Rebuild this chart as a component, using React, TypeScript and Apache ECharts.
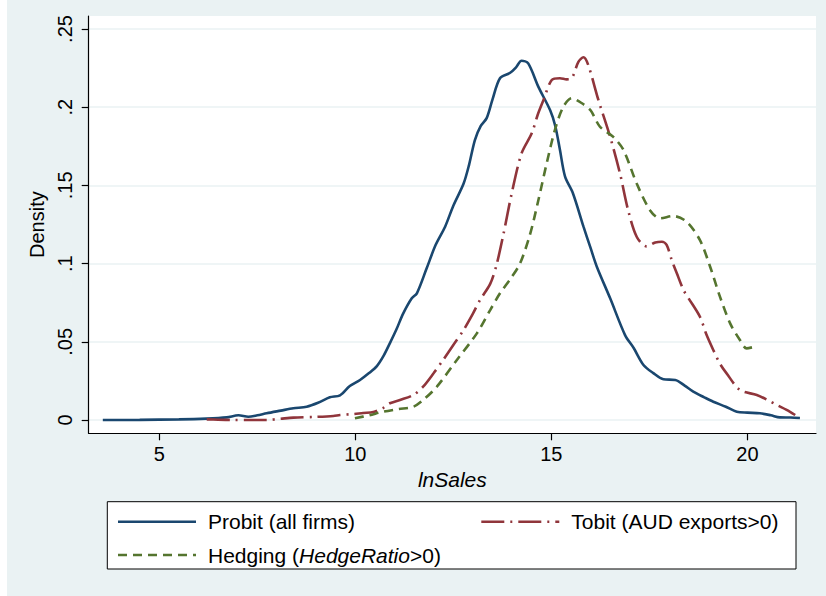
import React, { useEffect, useRef } from "react";
import * as echarts from "echarts";

const xTicks = [5, 10, 15, 20];
const yTicks = [0, 0.05, 0.1, 0.15, 0.2, 0.25];
const yTickLabels = ["0", ".05", ".1", ".15", ".2", ".25"];

const seriesNames = ["Probit (all firms)", "Tobit (AUD exports>0)", "Hedging (HedgeRatio>0)"];

const probit: number[][] = [
  [3.56, 0], [4.5, 0.0001], [5.5, 0.0004], [6.2, 0.0009], [6.72, 0.0017], [7.02, 0.003],
  [7.27, 0.0021], [7.5, 0.003], [7.74, 0.0043], [8.1, 0.006], [8.42, 0.0075], [8.76, 0.0085],
  [9.05, 0.011], [9.35, 0.0145], [9.61, 0.0158], [9.86, 0.0217], [10.12, 0.0256], [10.35, 0.03],
  [10.55, 0.0345], [10.72, 0.041], [10.88, 0.049], [11.05, 0.058], [11.22, 0.068], [11.44, 0.0778],
  [11.57, 0.081], [11.82, 0.097], [12.05, 0.112], [12.29, 0.1236], [12.5, 0.137], [12.76, 0.151],
  [12.9, 0.163], [13.05, 0.179], [13.2, 0.188], [13.35, 0.193], [13.5, 0.205], [13.69, 0.2185],
  [13.95, 0.222], [14.1, 0.2255], [14.24, 0.2297], [14.41, 0.228], [14.67, 0.213], [14.97, 0.198],
  [15.1, 0.188], [15.22, 0.1726], [15.35, 0.1556], [15.55, 0.145], [15.82, 0.1236], [16.0, 0.11],
  [16.16, 0.098], [16.5, 0.0778], [16.88, 0.0543], [17.1, 0.046], [17.35, 0.0352], [17.6, 0.03],
  [17.86, 0.026], [18.16, 0.0256], [18.4, 0.022], [18.62, 0.0181], [18.9, 0.0145], [19.13, 0.0117],
  [19.45, 0.0085], [19.73, 0.0053], [20.0, 0.0047], [20.32, 0.0043], [20.6, 0.003], [20.83, 0.0017],
  [21.1, 0.0016], [21.34, 0.0013],
];

const tobit: number[][] = [
  [6.21, 0.0004], [6.5, 0.0002], [6.88, 0.0], [7.3, 0.0], [7.74, 0.0], [8.1, 0.0008], [8.42, 0.0015],
  [9.0, 0.002], [9.44, 0.0026], [9.61, 0.0032], [9.95, 0.0038], [10.2, 0.0045], [10.46, 0.0051],
  [10.7, 0.0075], [10.88, 0.0107], [11.14, 0.0128], [11.48, 0.016], [11.73, 0.0213], [12.0, 0.03],
  [12.24, 0.0384], [12.5, 0.048], [12.76, 0.0575], [13.0, 0.068], [13.18, 0.0767], [13.44, 0.087],
  [13.6, 0.099], [13.78, 0.119], [13.99, 0.145], [14.24, 0.1705], [14.5, 0.1833], [14.65, 0.195],
  [14.8, 0.2046], [15.01, 0.2174], [15.22, 0.2185], [15.39, 0.2178], [15.52, 0.2185], [15.69, 0.229],
  [15.82, 0.2319], [15.94, 0.227], [16.2, 0.2046], [16.5, 0.181], [16.75, 0.1577], [16.96, 0.134],
  [17.18, 0.117], [17.43, 0.111], [17.65, 0.1135], [17.82, 0.114], [17.94, 0.112], [18.07, 0.1023],
  [18.2, 0.0938], [18.37, 0.0831], [18.5, 0.0778], [18.79, 0.066], [18.95, 0.055], [19.13, 0.0448],
  [19.3, 0.036], [19.47, 0.0298], [19.81, 0.0192], [20.24, 0.016], [20.5, 0.013], [20.75, 0.0096],
  [21.0, 0.0065], [21.22, 0.0032],
];

const hedging: number[][] = [
  [9.99, 0.0011], [10.35, 0.003], [10.71, 0.0053], [11.1, 0.007], [11.48, 0.0085], [11.73, 0.0128],
  [12.08, 0.0213], [12.59, 0.0384], [13.1, 0.0554], [13.44, 0.0703], [13.69, 0.081], [13.95, 0.09],
  [14.2, 0.1], [14.46, 0.119], [14.67, 0.1407], [14.88, 0.164], [15.09, 0.1854], [15.3, 0.2],
  [15.52, 0.2057], [15.78, 0.2025], [16.0, 0.198], [16.24, 0.1875], [16.58, 0.181], [16.84, 0.1726],
  [17.18, 0.151], [17.52, 0.134], [17.77, 0.129], [18.11, 0.1304], [18.45, 0.1268], [18.79, 0.115],
  [19.05, 0.098], [19.3, 0.0789], [19.56, 0.0618], [19.81, 0.0511], [19.98, 0.0458], [20.19, 0.0469],
];

const FONT = "'Liberation Sans', Arial, Helvetica, sans-serif";
const BLUE = "#1a476f";
const RED = "#90353b";
const GREEN = "#55752f";
const BG = "#eaf2f3";

export default function App() {
  const ref = useRef<HTMLDivElement>(null);
  useEffect(() => {
    if (!ref.current) return;
    const chart = echarts.init(ref.current, null, { renderer: "svg" });
    const legendText = {
      fontSize: 21,
      fontFamily: FONT,
      color: "#000",
      lineHeight: 24,
      padding: [0, 0, 0, 7],
      rich: {
        n: { fontSize: 21, fontFamily: FONT, color: "#000", lineHeight: 24 },
        i: { fontSize: 21, fontFamily: FONT, color: "#000", fontStyle: "italic", lineHeight: 24 },
      },
    };
    const legendFormatter = (name: string) =>
      name === seriesNames[2] ? "{n|Hedging (}{i|HedgeRatio}{n|>0)}" : name;
    chart.setOption({
      animation: false,
      backgroundColor: BG,
      textStyle: { fontFamily: FONT },
      grid: {
        left: 81.7,
        right: 10,
        top: 16,
        bottom: 162.7,
        show: true,
        backgroundColor: "#fff",
        borderWidth: 0,
      },
      graphic: [
        {
          type: "rect",
          z: 1,
          shape: { x: 100.3, y: 501.7, width: 688.7, height: 67.3 },
          style: { fill: "#fff", stroke: "#000", lineWidth: 1 },
        },
      ],
      legend: [
        {
          data: [seriesNames[0], seriesNames[2]],
          orient: "vertical",
          left: 109.7,
          top: 509.7,
          padding: 0,
          itemWidth: 78,
          itemHeight: 14,
          itemGap: 9.3,
          z: 10,
          itemStyle: { opacity: 0 },
          lineStyle: { width: 2.6 },
          textStyle: legendText,
          formatter: legendFormatter,
        },
        {
          data: [seriesNames[1]],
          orient: "vertical",
          left: 473,
          top: 509.7,
          padding: 0,
          itemWidth: 78,
          itemHeight: 14,
          z: 10,
          itemStyle: { opacity: 0 },
          lineStyle: { width: 2.6 },
          textStyle: legendText,
        },
      ],
      xAxis: {
        type: "value",
        min: 3.2,
        max: 21.75,
        name: "lnSales",
        nameLocation: "middle",
        nameGap: 33,
        nameTextStyle: { fontStyle: "italic", fontSize: 21, color: "#000", fontFamily: FONT },
        axisLine: { show: true, onZero: false, lineStyle: { color: "#000", width: 1.2 } },
        axisTick: { show: true, length: 7, customValues: xTicks, lineStyle: { color: "#000", width: 1.2 } },
        axisLabel: { customValues: xTicks, margin: 11, fontSize: 20, color: "#000", fontFamily: FONT },
        splitLine: { show: false },
      },
      yAxis: {
        type: "value",
        min: -0.0085,
        max: 0.2583,
        name: "Density",
        nameLocation: "middle",
        nameGap: 41,
        nameRotate: 90,
        nameTextStyle: { fontSize: 20, color: "#000", fontFamily: FONT },
        axisLine: { show: true, onZero: false, lineStyle: { color: "#000", width: 1.2 } },
        axisTick: { show: true, length: 7, customValues: yTicks, lineStyle: { color: "#000", width: 1.2 } },
        axisLabel: {
          customValues: yTicks,
          rotate: 90,
          margin: 14,
          fontSize: 20,
          color: "#000",
          fontFamily: FONT,
          formatter: (v: number) => {
            const i = yTicks.findIndex((t) => Math.abs(t - v) < 1e-9);
            return i >= 0 ? yTickLabels[i] : "";
          },
        },
        splitLine: { show: true, lineStyle: { color: BG, width: 1.5 } },
      },
      series: [
        {
          name: seriesNames[0],
          type: "line",
          data: probit,
          symbol: "none",
          smooth: 0.3,
          lineStyle: { color: BLUE, width: 2.6 },
          itemStyle: { color: BLUE },
        },
        {
          name: seriesNames[1],
          type: "line",
          data: tobit,
          symbol: "none",
          smooth: 0.3,
          lineStyle: { color: RED, width: 2.6, type: [23, 6, 2, 6] },
          itemStyle: { color: RED },
        },
        {
          name: seriesNames[2],
          type: "line",
          data: hedging,
          symbol: "none",
          smooth: 0.3,
          lineStyle: { color: GREEN, width: 2.6, type: [9, 6] },
          itemStyle: { color: GREEN },
        },
      ],
    });
    return () => chart.dispose();
  }, []);
  return (
    <div style={{ position: "absolute", left: 0, top: 0, width: 826, height: 596, background: "#fff" }}>
      <div ref={ref} style={{ position: "absolute", left: 7, top: 0, width: 819, height: 596 }} />
    </div>
  );
}
